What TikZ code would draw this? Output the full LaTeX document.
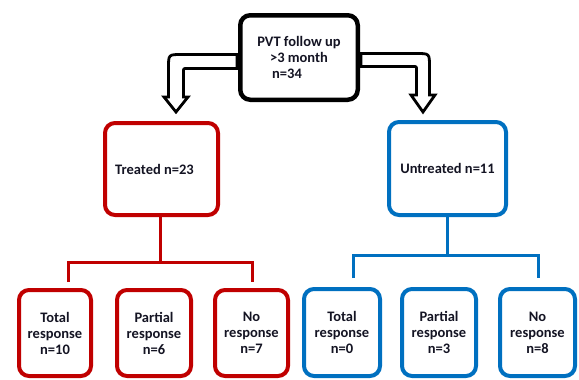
\documentclass[tikz,border=0pt]{standalone}
\usepackage{fontspec}
\setmainfont{Carlito}
\usetikzlibrary{calc}
\definecolor{bred}{RGB}{192,0,0}
\definecolor{bblue}{RGB}{0,112,192}
\definecolor{txt}{RGB}{20,20,35}
\tikzset{
  box/.style={draw, rectangle, rounded corners=10pt, fill=white, inner sep=0pt,
    align=center, text=txt, font=\fontsize{14.5}{16}\selectfont\bfseries},
  topbox/.style={box, draw=black, line width=4.5pt},
  redbox/.style={box, draw=bred, line width=4pt},
  bluebox/.style={box, draw=bblue, line width=4pt},
  redln/.style={draw=bred, line width=3pt},
  blueln/.style={draw=bblue, line width=3pt},
  hollow/.style={draw=black, line width=2.8pt, fill=white, line join=miter}
}
\begin{document}
\begin{tikzpicture}[x=1pt,y=-1pt]
\useasboundingbox[fill=white] (0,0) rectangle (579,380);

% hollow arrows
\draw[hollow] (237,54.5) -- (181.5,54.5) .. controls (168.5,54.5) .. (168.5,67.5)
  -- (168.5,97) -- (164,97) -- (176,112) -- (188,97) -- (183.5,97) -- (183.5,72)
  .. controls (183.5,68.5) .. (187,68.5) -- (237,68.5) -- cycle;
\draw[hollow] (361,53.5) -- (416.5,53.5) .. controls (429.5,53.5) .. (429.5,66.5)
  -- (429.5,95) -- (435,95) -- (423,112) -- (411,95) -- (416.5,95) -- (416.5,70)
  .. controls (416.5,66.5) .. (413,66.5) -- (361,66.5) -- cycle;

% nodes
\node[topbox, minimum width=117.5pt, minimum height=84.5pt] (top) at (299,57.5)
  {PVT follow up\\>3 month\hspace*{22pt}\\n=34\hspace*{24pt}};
\node[redbox, minimum width=113pt, minimum height=92pt] (tr) at (161.5,169)
  {Treated n=23\hspace*{14pt}};
\node[bluebox, minimum width=117pt, minimum height=93pt] (un) at (447.5,168.5)
  {Untreated n=11};

\node[redbox, minimum width=72pt, minimum height=86pt] (r1) at (55,333)
  {Total\\response\\n=10};
\node[redbox, minimum width=74pt, minimum height=86pt] (r2) at (154,333)
  {Partial\\response\\n=6};
\node[redbox, minimum width=73pt, minimum height=86pt] (r3) at (251.5,333)
  {No\\response\\n=7};
\node[bluebox, minimum width=76pt, minimum height=87pt] (b1) at (342,332.5)
  {Total\\response\\n=0};
\node[bluebox, minimum width=74pt, minimum height=87pt] (b2) at (439,332.5)
  {Partial\\response\\n=3};
\node[bluebox, minimum width=75pt, minimum height=87pt] (b3) at (537.5,332.5)
  {No\\response\\n=8};

% connectors
\coordinate (rj) at (160,262);
\coordinate (rl) at (68,282);
\coordinate (rr) at (252,282);
\draw[redln] (tr.south -| rj) -- (rj);
\draw[redln] (rl) |- (rj) -| (rr);

\coordinate (bj) at (447,255);
\coordinate (bl) at (353,278);
\coordinate (br) at (538,278);
\draw[blueln] (un.south -| bj) -- (bj);
\draw[blueln] (bl) |- (bj) -| (br);
\end{tikzpicture}
\end{document}
